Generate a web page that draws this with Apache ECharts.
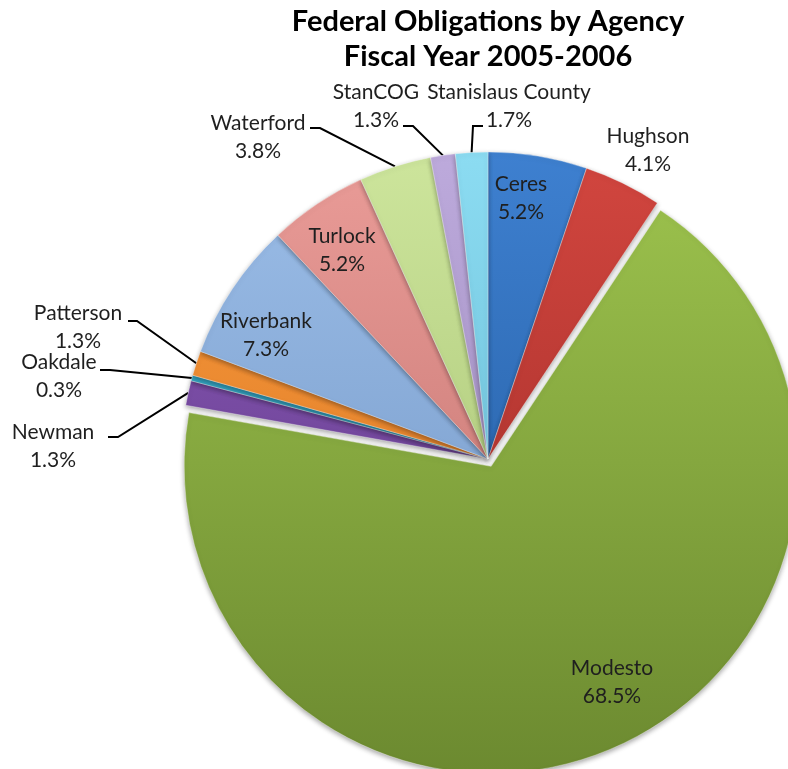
<!DOCTYPE html>
<html>
<head>
<meta charset="utf-8">
<script src="https://cdn.jsdelivr.net/npm/echarts@6/dist/echarts.min.js"></script>
<style>
  html, body { margin: 0; padding: 0; background: #fff; }
  #chart { width: 788px; height: 769px; }
</style>
</head>
<body>
<div id="chart"></div>
<script>
const AGENCIES = ['Ceres', 'Hughson', 'Modesto', 'Newman', 'Oakdale', 'Patterson', 'Riverbank', 'Turlock', 'Waterford', 'StanCOG', 'Stanislaus County']
const SHARES = [5.2, 4.1, 68.5, 1.3, 0.3, 1.3, 7.3, 5.2, 3.8, 1.3, 1.7]
const TITLE_LINES = ['Federal Obligations by Agency', 'Fiscal Year 2005-2006']

// excel-ish 2007 palette, light at top, darker toward the bottom
const TOP_COLORS = ['#3E80D0', '#D2463F', '#9EC44E', '#8A58B8', '#3CB8D8', '#FB9B3C', '#9CBEE8', '#EA9C98', '#CDE59C', '#BDAADC', '#8CDCF2']
const BOTTOM_COLORS = ['#1E5597', '#982824', '#6C8A30', '#5C3882', '#2886A0', '#D27020', '#6E92C2', '#BC6C68', '#A0BC6C', '#9280B2', '#5CB0CA']

const INSIDE = ['Ceres', 'Modesto', 'Riverbank', 'Turlock']
const EXPLODED = 'Modesto'

// label centres, plus [attachX, y, elbowX] for the leader lines
const LABEL_SPOTS = {
  Ceres: { x: 521, y: 198 },
  Hughson: { x: 648, y: 150 },
  Modesto: { x: 612, y: 682 },
  Newman: { x: 53, y: 446, line: [108, 437, 118] },
  Oakdale: { x: 59, y: 376, line: [100, 370, 110] },
  Patterson: { x: 78, y: 327, line: [128, 321, 137] },
  Riverbank: { x: 266, y: 335 },
  Turlock: { x: 342, y: 250 },
  Waterford: { x: 258, y: 137, line: [310, 128, 320] },
  StanCOG: { x: 376, y: 106, line: [403, 126, 413] },
  'Stanislaus County': { x: 509, y: 106, line: [483, 126, 473] },
}

const FONT = 'Lato, "Open Sans", sans-serif'
const PIE_CENTER = [488, 459]
const PIE_RADIUS = 307
const EXPLODE_OFFSET = 8

// the exploded slice gets its own series, shifted along its mid angle
const total = SHARES.reduce((a, b) => a + b, 0)
const explodedIdx = AGENCIES.indexOf(EXPLODED)
const before = SHARES.slice(0, explodedIdx).reduce((a, b) => a + b, 0)
const midAngle = ((before + SHARES[explodedIdx] / 2) / total) * Math.PI * 2
const explodedCenter = [
  PIE_CENTER[0] + Math.sin(midAngle) * EXPLODE_OFFSET,
  PIE_CENTER[1] - Math.cos(midAngle) * EXPLODE_OFFSET,
]

const hiddenItem = {
  itemStyle: { color: 'transparent', borderWidth: 0, shadowBlur: 0, shadowColor: 'transparent' },
  label: { show: false },
  labelLine: { show: false },
}

function sliceItem(name, i) {
  const spot = LABEL_SPOTS[name]
  return {
    name,
    value: SHARES[i],
    itemStyle: {
      color: {
        type: 'linear',
        global: true,
        x: 0, y: 152, x2: 0, y2: 770,
        colorStops: [
          { offset: 0, color: TOP_COLORS[i] },
          { offset: 1, color: BOTTOM_COLORS[i] },
        ],
      },
    },
    label: {
      position: INSIDE.includes(name) ? 'inside' : 'outside',
    },
    labelLine: {
      show: !!spot.line,
    },
  }
}

const mainData = AGENCIES.map((name, i) =>
  name === EXPLODED ? { name, value: SHARES[i], ...hiddenItem } : sliceItem(name, i))
const explodedData = AGENCIES.map((name, i) =>
  name === EXPLODED ? sliceItem(name, i) : { name, value: SHARES[i], ...hiddenItem })

const pieBase = {
  type: 'pie',
  radius: PIE_RADIUS,
  startAngle: 90,
  clockwise: true,
  avoidLabelOverlap: false,
  silent: true,
  emphasis: { disabled: true },
  itemStyle: {
    borderColor: 'rgba(255,255,255,0.35)',
    borderWidth: 1,
    shadowBlur: 5,
    shadowColor: 'rgba(0,0,0,0.35)',
    shadowOffsetY: 2,
  },
  label: {
    show: true,
    color: '#1f1f1f',
    fontFamily: FONT,
    fontSize: 21,
    lineHeight: 28,
    align: 'center',
    formatter: (p) => p.name + '\n' + p.value.toFixed(1) + '%',
  },
  labelLine: {
    length: 10,
    length2: 10,
    lineStyle: { color: '#000000', width: 2 },
  },
  labelLayout: (params) => {
    const spot = LABEL_SPOTS[AGENCIES[params.dataIndex]]
    const out = { x: spot.x, y: spot.y, align: 'center', verticalAlign: 'middle' }
    if (spot.line && params.labelLinePoints) {
      const edge = params.labelLinePoints[0]
      out.labelLinePoints = [[spot.line[0], spot.line[1]], [spot.line[2], spot.line[1]], edge]
    }
    return out
  },
}

const chart = echarts.init(document.getElementById('chart'))

chart.setOption({
  animation: false,
  backgroundColor: '#ffffff',
  graphic: [
    {
      type: 'text',
      x: 488,
      y: 4,
      style: {
        text: TITLE_LINES.join('\n'),
        font: 'bold 29px ' + FONT,
        lineHeight: 35,
        fill: '#000000',
        textAlign: 'center',
        textVerticalAlign: 'top',
      },
    },
  ],
  series: [
    { ...pieBase, name: 'exploded', center: explodedCenter, z: 1, data: explodedData },
    { ...pieBase, name: 'main', center: PIE_CENTER, z: 2, data: mainData },
  ],
})
</script>
</body>
</html>
